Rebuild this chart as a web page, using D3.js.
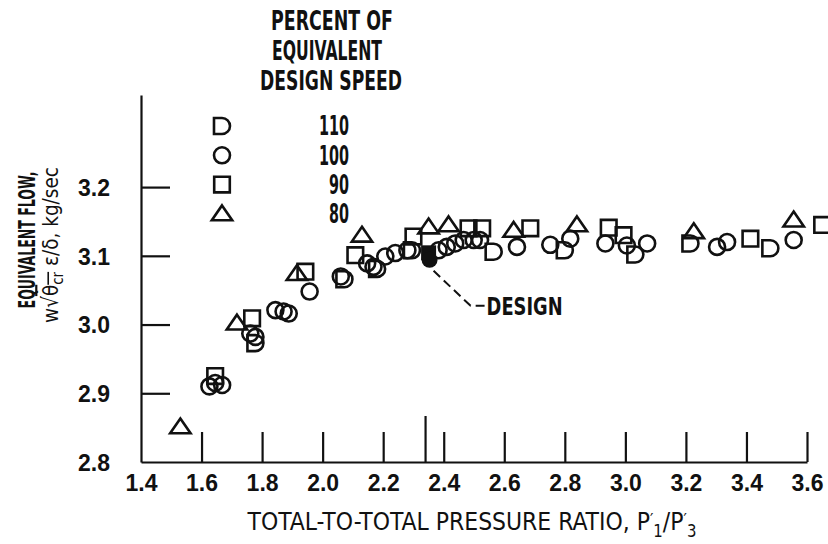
<!DOCTYPE html>
<html>
<head>
<meta charset="utf-8">
<script src="https://cdn.jsdelivr.net/npm/d3@7"></script>
<style>
  body { margin: 0; background: #fff; }
  svg { display: block; }
</style>
</head>
<body>
<div id="chartBox"></div>
<script>
(function () {
  'use strict';

  // ---- data ----
  var speedLabels = ["110", "100", "90", "80"];

  // 110 percent (D symbol)
  var speed110X = [1.778, 2.072, 2.18, 2.295, 2.565, 2.80, 3.033, 3.215, 3.479];
  var speed110Y = [2.973, 3.066, 3.081, 3.108, 3.106, 3.108, 3.102, 3.118, 3.111];

  // 100 percent (circle)
  var speed100X = [1.626, 1.645, 1.668, 1.761, 1.778, 1.844, 1.871, 1.888, 1.957, 2.06,
                   2.147, 2.168, 2.207, 2.24, 2.28, 2.383, 2.41, 2.438, 2.466, 2.499,
                   2.52, 2.642, 2.752, 2.818, 2.934, 3.005, 3.072, 3.303, 3.336, 3.556];
  var speed100Y = [2.91, 2.915, 2.912, 2.987, 2.982, 3.021, 3.019, 3.016, 3.048, 3.07,
                   3.089, 3.084, 3.099, 3.104, 3.108, 3.108, 3.113, 3.118, 3.123, 3.123,
                   3.123, 3.113, 3.116, 3.125, 3.118, 3.115, 3.118, 3.113, 3.12, 3.123];

  // 90 percent (square)
  var speed90X = [1.645, 1.767, 1.943, 2.108, 2.30, 2.482, 2.527, 2.686, 2.945, 2.994, 3.413, 3.65];
  var speed90Y = [2.925, 3.009, 3.077, 3.101, 3.128, 3.14, 3.14, 3.14, 3.141, 3.13, 3.125, 3.145];

  // 80 percent (triangle)
  var speed80X = [1.53, 1.717, 1.915, 2.13, 2.35, 2.416, 2.631, 2.84, 3.226, 3.556];
  var speed80Y = [2.851, 3.002, 3.074, 3.13, 3.142, 3.145, 3.137, 3.145, 3.135, 3.152];

  var designPoint = [2.35, 3.10];
  var designTick = 2.34;

  var xTicks = [1.4, 1.6, 1.8, 2.0, 2.2, 2.4, 2.6, 2.8, 3.0, 3.2, 3.4, 3.6];
  var yTicks = [2.8, 2.9, 3.0, 3.1, 3.2];

  var legendTitle = ["PERCENT OF", "EQUIVALENT", "DESIGN SPEED"];

  // ---- setup ----
  var outerWidth = 828,
      outerHeight = 544,
      ink = "#111",
      font = "'Liberation Sans Narrow','DejaVu Sans Condensed','Liberation Sans',Arial,sans-serif";

  var x = d3.scaleLinear().domain([1.4, 3.6]).range([141, 807]);
  var y = d3.scaleLinear().domain([2.8, 3.334]).range([462, 95]);

  var svg = d3.select("#chartBox").append("svg")
    .attr("width", outerWidth)
    .attr("height", outerHeight)
    .style("font-family", font)
    .style("fill", ink);

  // squeeze a text horizontally so it fits a given width
  function squeeze(t, w, cx, cy, rot) {
    var n = t.node().getComputedTextLength();
    var k = Math.min(1.2, w / n);
    t.attr("transform", "translate(" + cx + "," + cy + ")" + (rot ? " rotate(" + rot + ")" : "") + " scale(" + k + ",1)");
  }

  // symbols
  var shapes = {
    "110": function (h) { return "M" + (-h) + "," + (-h) + "L0," + (-h) + "A" + h + "," + h + " 0 0 1 0," + h + "L" + (-h) + "," + h + "Z"; },
    "100": function (h) { return d3.symbol(d3.symbolCircle, Math.PI * h * h)(); },
    "90": function (h) { return d3.symbol(d3.symbolSquare, 4 * h * h)(); },
    "80": function (h) { return "M0," + (-h) + "L" + (h * 1.2) + "," + (h * 0.75) + "L" + (-h * 1.2) + "," + (h * 0.75) + "Z"; }
  };
  var sizes = { "110": 8, "100": 8, "90": 7.8, "80": 8.5 };

  var series = [
    { key: "110", xs: speed110X, ys: speed110Y },
    { key: "100", xs: speed100X, ys: speed100Y },
    { key: "90", xs: speed90X, ys: speed90Y },
    { key: "80", xs: speed80X, ys: speed80Y }
  ];

  // ---- axes ----
  var xAxis = d3.axisBottom(x).tickValues(xTicks).tickSizeInner(-30).tickSizeOuter(0).tickPadding(13)
    .tickFormat(d3.format(".1f"));
  var yAxis = d3.axisLeft(y).tickValues(yTicks).tickSizeInner(-29).tickSizeOuter(0).tickPadding(31)
    .tickFormat(d3.format(".1f"));

  var gx = svg.append("g").attr("class", "x axis")
    .attr("transform", "translate(0," + y(2.8) + ")")
    .call(xAxis);
  var gy = svg.append("g").attr("class", "y axis")
    .attr("transform", "translate(" + x(1.4) + ",0)")
    .call(yAxis);

  [gx, gy].forEach(function (g) {
    g.attr("font-family", null).attr("font-size", null);
    g.selectAll("path, line").attr("stroke", ink).attr("stroke-width", 2.2);
    g.selectAll("text").attr("fill", ink).style("font-size", "23px")
      .style("font-weight", "bold")
      .style("font-family", "'Liberation Sans',Arial,sans-serif");
  });
  gy.selectAll(".tick").filter(function (d) { return d === 2.8; }).select("line").remove();
  gx.selectAll(".tick").filter(function (d) { return d === 1.4; }).select("line").remove();
  gx.selectAll("text").attr("dy", "0.71em");
  gy.selectAll("text").attr("dy", "0.36em");

  // taller tick at design pressure ratio
  gx.append("line")
    .attr("x1", x(designTick)).attr("x2", x(designTick))
    .attr("y1", 0).attr("y2", -46)
    .attr("stroke", ink).attr("stroke-width", 2.2);

  // ---- data points ----
  var pts = svg.append("g").attr("class", "points");
  series.forEach(function (s) {
    pts.selectAll(".p" + s.key)
      .data(s.xs.map(function (v, i) { return [v, s.ys[i]]; }))
      .enter().append("path")
      .attr("class", "p" + s.key)
      .attr("d", shapes[s.key](sizes[s.key]))
      .attr("transform", function (d) { return "translate(" + x(d[0]) + "," + y(d[1]) + ")"; })
      .attr("fill", "none")
      .attr("stroke", ink)
      .attr("stroke-width", 2.6);
  });

  // design point: solid symbols
  pts.append("path")
    .attr("d", shapes["90"](7.5))
    .attr("transform", "translate(" + x(designPoint[0]) + "," + (y(designPoint[1]) - 3) + ")")
    .attr("fill", ink);
  pts.append("path")
    .attr("d", shapes["100"](8))
    .attr("transform", "translate(" + (x(designPoint[0]) + 1) + "," + (y(designPoint[1]) + 4) + ")")
    .attr("fill", ink);

  // design leader
  var dx0 = x(designPoint[0]) + 5, dy0 = y(designPoint[1]) + 15;
  svg.append("path")
    .attr("d", "M" + dx0 + "," + dy0 + "L" + (dx0 + 37) + "," + (dy0 + 35) + "L" + (dx0 + 51) + "," + (dy0 + 35))
    .attr("fill", "none").attr("stroke", ink).attr("stroke-width", 2)
    .attr("stroke-dasharray", "9,5");
  var dt = svg.append("text").text("DESIGN")
    .attr("dy", "0.36em")
    .style("font-size", "25px").style("font-weight", "bold");
  squeeze(dt, 76, dx0 + 53, dy0 + 35);

  // ---- legend ----
  var lg = svg.append("g").attr("class", "legend");
  legendTitle.forEach(function (t, i) {
    var tt = lg.append("text").text(t)
      .attr("text-anchor", "middle")
      .attr("dy", "0.36em")
      .style("font-size", "27px").style("font-weight", "bold");
    squeeze(tt, [122, 110, 142][i], [332, 327, 331][i], 20 + i * 30);
  });
  speedLabels.forEach(function (k, i) {
    var ry = 126 + i * 29.3;
    lg.append("path")
      .attr("d", shapes[k](sizes[k]))
      .attr("transform", "translate(222," + ry + ")")
      .attr("fill", "none").attr("stroke", ink).attr("stroke-width", 2.6);
    var nt = lg.append("text").text(k)
      .attr("text-anchor", "end")
      .attr("dy", "0.36em")
      .style("font-size", "26px").style("font-weight", "bold");
    squeeze(nt, k.length * 10, 349, ry);
  });

  // ---- axis titles ----
  var xt = svg.append("text")
    .attr("text-anchor", "middle")
    .style("font-size", "25px");
  xt.append("tspan").text("TOTAL-TO-TOTAL PRESSURE RATIO,  P");
  xt.append("tspan").text("\u2032").attr("dy", -4).style("font-size", "17px");
  xt.append("tspan").text("1").attr("dy", 11).style("font-size", "17px");
  xt.append("tspan").text("/P").attr("dy", -7);
  xt.append("tspan").text("\u2032").attr("dy", -4).style("font-size", "17px");
  xt.append("tspan").text("3").attr("dy", 11).style("font-size", "17px");
  squeeze(xt, 449, 472, 530);

  var yt1 = svg.append("text").text("EQUIVALENT FLOW,")
    .attr("text-anchor", "middle")
    .attr("dy", "0.36em")
    .style("font-size", "23px").style("font-weight", "bold");
  squeeze(yt1, 137, 27, 240, -90);

  var yt2 = svg.append("text")
    .attr("text-anchor", "middle")
    .attr("dy", "0.36em")
    .style("font-size", "22px");
  yt2.append("tspan").text("w\u221A");
  yt2.append("tspan").text("\u03B8").style("text-decoration", "overline");
  yt2.append("tspan").text("cr").attr("dy", 5).style("font-size", "16px").style("text-decoration", "overline");
  yt2.append("tspan").text(" \u03B5/\u03B4,  kg/sec").attr("dy", -5);
  squeeze(yt2, 156, 50, 245, -90);
})();
</script>
</body>
</html>
